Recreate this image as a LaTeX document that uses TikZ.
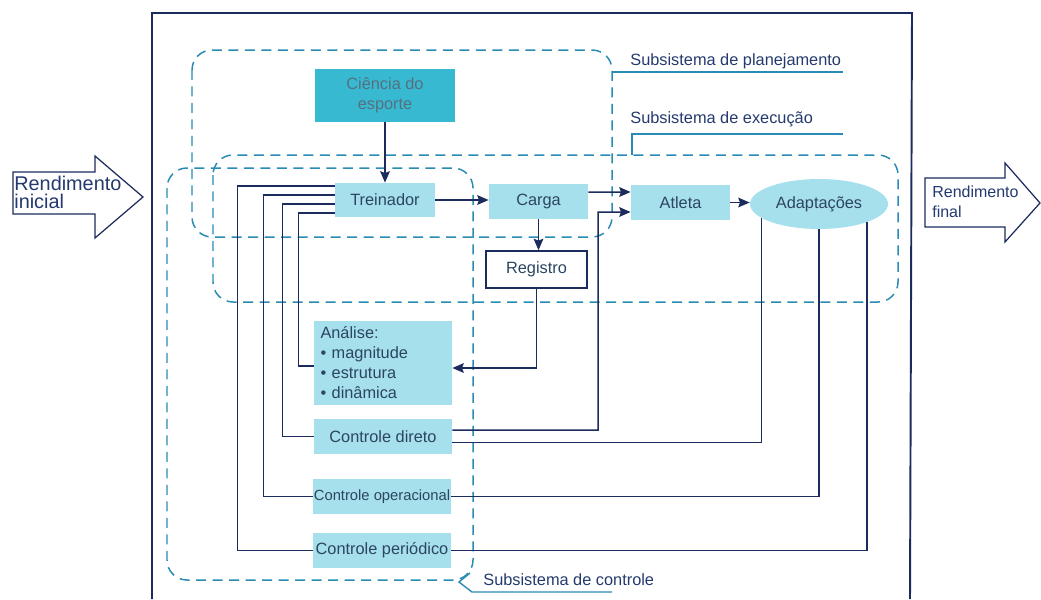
\documentclass[tikz,border=0pt]{standalone}
\usepackage{fontspec}
\setmainfont{Liberation Sans}
\usetikzlibrary{shapes,arrows.meta}
\definecolor{cyan_light}{HTML}{A6E0EC}
\definecolor{cyan_dark}{HTML}{38B9D2}
\definecolor{dash_blue}{HTML}{2A8BB4}
\definecolor{line_navy}{HTML}{1C2B5E}
\definecolor{text_navy}{HTML}{243A6E}
\definecolor{text_box}{HTML}{2C4560}
\definecolor{text_pale}{HTML}{56707E}
\tikzstyle{node_light} = [rectangle, fill=cyan_light, text=text_box, inner sep=0pt, minimum width=2.76cm, minimum height=0.7cm, font=\fontsize{9.3}{11.4}\selectfont]
\tikzstyle{node_dark} = [rectangle, fill=cyan_dark, text=text_pale, inner sep=0pt, align=center, font=\fontsize{9.3}{11.4}\selectfont]
\tikzstyle{node_plain} = [rectangle, draw=line_navy, line width=0.9pt, fill=white, text=text_box, inner sep=0pt, font=\fontsize{9.3}{11.4}\selectfont]
\tikzstyle{node_ellipse} = [ellipse, fill=cyan_light, text=text_box, inner sep=0pt, minimum width=2.76cm, minimum height=1cm, font=\fontsize{9.3}{11.4}\selectfont]
\tikzstyle{edge_normal} = [line_navy, line width=0.85pt]
\tikzstyle{edge_arrow} = [line_navy, line width=0.85pt, -{Stealth[length=6.5pt, width=5.5pt, inset=1pt]}]
\tikzstyle{subsystem} = [dash_blue, line width=0.85pt, dash pattern=on 0.2cm off 0.13cm, rounded corners=0.4cm]
\tikzstyle{label_text} = [text=text_navy, anchor=base west, inner sep=0pt, font=\fontsize{9.3}{11.4}\selectfont]
\tikzstyle{label_line} = [dash_blue, line width=0.8pt]
\tikzstyle{arrow_big} = [draw=line_navy, line width=0.7pt, fill=white]
\tikzstyle{big_text} = [text=text_navy, anchor=west, inner sep=0pt, align=left]

\begin{document}
\begin{tikzpicture}[x=0.02cm, y=-0.02cm]
\useasboundingbox (0,0) rectangle (1041,599);

% frame and big arrows
\draw[edge_normal, line width=1.1pt] (152,599) -- (152,13) -- (912,13) -- (910,599);
\draw[arrow_big] (13,172) -- (95,172) -- (95,156) -- (143,197) -- (95,238) -- (95,214) -- (13,214) -- cycle;
\draw[arrow_big] (925,178) -- (1005,178) -- (1005,163) -- (1040,203) -- (1005,242) -- (1005,227) -- (925,227) -- cycle;
\node (inicial) [big_text, font=\fontsize{11.3}{10.3}\selectfont] at (14,192) {Rendimento\\inicial};
\node (final) [big_text, font=\fontsize{9.1}{11.4}\selectfont] at (932,202) {Rendimento\\final};

% subsystems
\draw[subsystem] (192,50) rectangle (612,237);
\draw[subsystem] (213,155) rectangle (898,302);
\draw[subsystem] (167,168) rectangle (473,580);

\node (plan_label) [label_text] at (630,65) {Subsistema de planejamento};
\node (exec_label) [label_text] at (630,123) {Subsistema de execução};
\node (ctrl_label) [label_text] at (483,585) {Subsistema de controle};
\coordinate (plan_start) at (612,72);
\coordinate (exec_start) at (632,155);
\coordinate (ctrl_start) at (470,573);
\draw[label_line] (plan_start) -- (843,72);
\draw[label_line] (exec_start) -- (632,134) -- (843,134);
\draw[label_line] (ctrl_start) -- (459,582) -- (472,592) -- (612,592);

% nodes
\node (ciencia) at (385,95.5) [node_dark, minimum width=2.8cm, minimum height=1.06cm] {Ciência do\\esporte};
\node (treinador) at (385,200) [node_light, minimum width=2cm, minimum height=0.68cm] {Treinador};
\node (carga) at (538.5,201.5) [node_light, minimum width=1.98cm] {Carga};
\node (atleta) at (680.5,202.5) [node_light, minimum width=1.98cm] {Atleta};
\node (adapt) at (819,204) [node_ellipse] {Adaptações};
\node (registro) at (536.5,269.5) [node_plain, minimum width=2.02cm, minimum height=0.74cm] {Registro};
\node (analise) at (383,363) [node_light, minimum height=1.68cm, text width=2.5cm, inner xsep=0.13cm, align=left] {Análise:\\• magnitude\\• estrutura\\• dinâmica};
\node (direto) at (383,436.5) [node_light] {Controle direto};
\node (operacional) at (382,496.5) [node_light, font=\fontsize{8.4}{10}\selectfont] {Controle operacional};
\node (periodico) at (382,550.5) [node_light] {Controle periódico};

% main flow
\draw[edge_arrow] (ciencia.south) -- (treinador.north);
\draw[edge_arrow] (treinador.east) -- (carga.west |- treinador.east);
\draw[edge_arrow] ([yshift=0.19cm]carga.east) -- ([yshift=0.21cm]atleta.west);
\draw[edge_arrow] (atleta.east) -- (adapt.west |- atleta.east);
\draw[edge_arrow] (carga.south) -- (carga.south |- registro.north);
\draw[edge_arrow] (registro.south) |- ([yshift=-0.1cm]analise.east);

% treinador to control
\draw[edge_normal] ([yshift=0.28cm]treinador.west) -- ++(-97,0) |- (periodico.west);
\draw[edge_normal] ([yshift=0.1cm]treinador.west) -- ++(-71,0) |- (operacional.west);
\draw[edge_normal] ([yshift=-0.08cm]treinador.west) -- ++(-52,0) |- (direto.west);
\draw[edge_normal] ([yshift=-0.26cm]treinador.west) -- ++(-36,0) |- ([yshift=-0.06cm]analise.west);

% control to atleta and adaptacoes
\draw[edge_arrow] ([yshift=0.13cm]direto.east) -| (598,212) -- ([yshift=-0.19cm]atleta.west);
\draw[edge_normal] ([yshift=-0.12cm]direto.east) -| (adapt.-166);
\draw[edge_normal] (operacional.east) -| (adapt.south);
\draw[edge_normal] (periodico.east) -| (adapt.-21);
\end{tikzpicture}
\end{document}
